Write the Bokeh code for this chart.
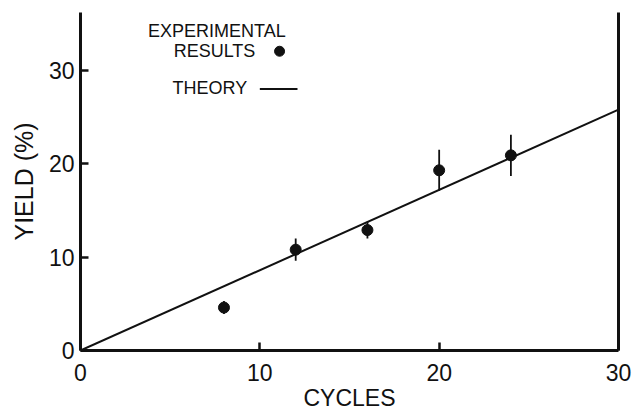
from bokeh.plotting import figure
from bokeh.models import LinearAxis, FixedTicker, Range1d, Label
from bokeh.embed import file_html
from bokeh.resources import INLINE

# data
cycles = [8, 12, 16, 20, 24]
yield_pct = [4.6, 10.8, 12.9, 19.3, 20.9]
yield_err = [0.7, 1.2, 0.9, 2.2, 2.2]
theory_x = [0, 30]
theory_y = [0, 25.8]
x_ticks = [0, 10, 20, 30]
y_ticks = [0, 10, 20, 30]

FONT = "Liberation Sans"

p = figure(width=633, height=413, output_backend="svg", toolbar_location=None,
           x_range=Range1d(0, 30), y_range=Range1d(0, 36.2),
           min_border_left=80, min_border_right=15, min_border_top=12,
           min_border_bottom=63, x_axis_location=None, y_axis_location=None)
p.grid.visible = False
p.outline_line_color = None
p.background_fill_color = "white"
p.border_fill_color = "white"

xax = LinearAxis(ticker=FixedTicker(ticks=x_ticks), axis_label="CYCLES")
yax = LinearAxis(ticker=FixedTicker(ticks=y_ticks), axis_label="YIELD (%)")
for ax in (xax, yax):
    ax.axis_line_width = 3
    ax.axis_line_color = "#111111"
    ax.major_tick_in = 8
    ax.major_tick_out = 0
    ax.major_tick_line_width = 2.5
    ax.major_tick_line_color = "#111111"
    ax.minor_tick_line_color = None
    ax.major_label_text_font = FONT
    ax.major_label_text_font_size = "23px"
    ax.major_label_text_color = "#111111"
    ax.axis_label_text_font = FONT
    ax.axis_label_text_font_size = "23px"
    ax.axis_label_text_font_style = "normal"
    ax.axis_label_text_color = "#111111"
xax.major_label_standoff = 13
xax.axis_label_standoff = 1
yax.major_label_standoff = 6
yax.axis_label_text_font_size = "25px"
yax.axis_label_standoff = 8
p.add_layout(xax, "below")
p.add_layout(yax, "left")

rax = LinearAxis(ticker=FixedTicker(ticks=[]), major_label_text_font_size="0px")
rax.axis_line_width = 3
rax.axis_line_color = "#111111"
rax.major_tick_line_color = None
rax.minor_tick_line_color = None
p.add_layout(rax, "right")

# theory line
p.line(theory_x, theory_y, line_width=2, line_color="#111111")

# error bars and points
lower = [v - e for v, e in zip(yield_pct, yield_err)]
upper = [v + e for v, e in zip(yield_pct, yield_err)]
p.segment(x0=cycles, y0=lower, x1=cycles, y1=upper, line_width=1.8, line_color="#111111")
p.scatter(cycles, yield_pct, size=11, color="#111111")

# legend (manual)
def lab(x, y, t, align):
    p.add_layout(Label(x=x, y=y, text=t, text_font=FONT, text_font_size="18px",
                       text_color="#111111", text_align=align, text_baseline="middle"))

lab(7.6, 34.2, "EXPERIMENTAL", "center")
lab(9.75, 32.1, "RESULTS", "right")
lab(9.3, 28.1, "THEORY", "right")
p.scatter([11.1], [32.05], size=10, color="#111111")
p.line([10.0, 12.1], [28.0, 28.0], line_width=2, line_color="#111111")

open("out.html", "w").write(file_html(p, INLINE))
